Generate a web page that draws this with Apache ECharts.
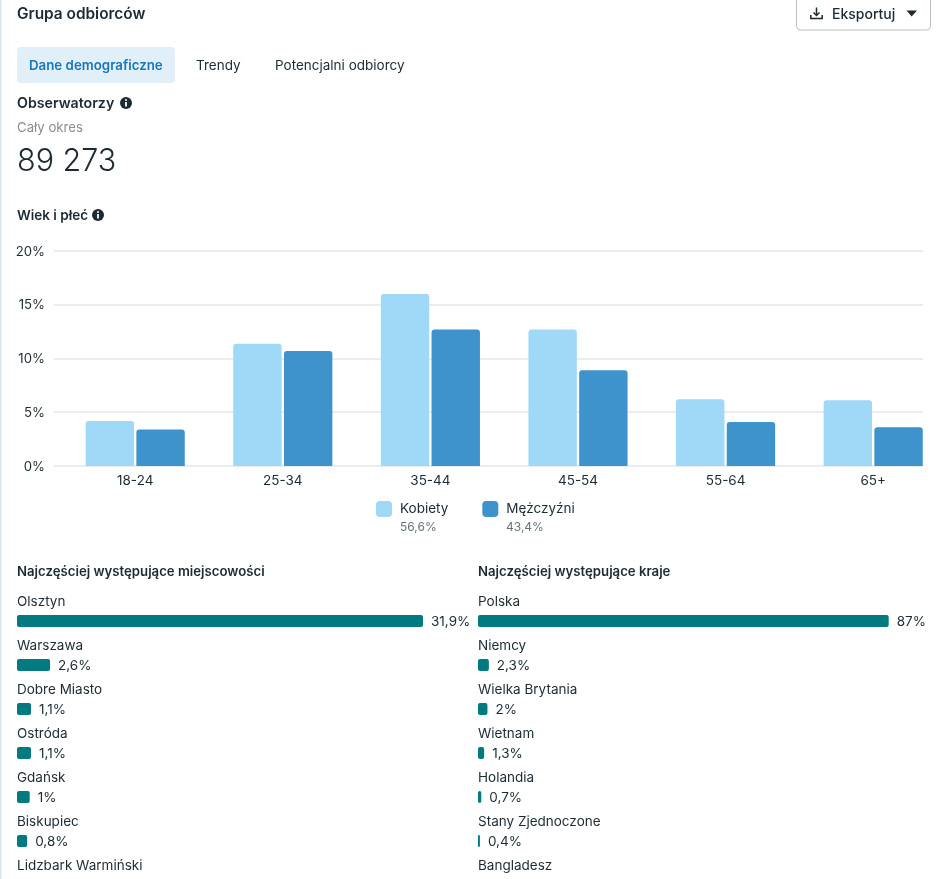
<!DOCTYPE html>
<html><head><meta charset="utf-8">
<style>html,body{margin:0;padding:0;background:#fff}#c{width:943px;height:879px}</style>
<script src="https://cdn.jsdelivr.net/npm/echarts@6/dist/echarts.min.js"></script>
</head><body><div id="c"></div>
<script>
const FONT = 'Inter';
const ageGroups = ['18-24','25-34','35-44','45-54','55-64','65+'];
const women = [4.18,11.36,15.98,12.69,6.19,6.1];
const men = [3.4,10.68,12.69,8.89,4.09,3.59];
const percentTicks = [0,5,10,15,20];
const cities = ['Olsztyn','Warszawa','Dobre Miasto','Ostróda','Gdańsk','Biskupiec','Lidzbark Warmiński'];
const cityShare = [31.9,2.6,1.1,1.1,1,0.8,null];
const countries = ['Polska','Niemcy','Wielka Brytania','Wietnam','Holandia','Stany Zjednoczone','Bangladesz'];
const countryShare = [87,2.3,2,1.3,0.7,0.4,null];

const INK='#1c2b33', GREY='#65737e', LIGHT='#A0D8F8', DARK='#3E93CC', TEAL='#037A80', LINE='#E4E6EB';
const pct = v => String(v).replace('.',',')+'%';
const text = (x,y,t,size,weight,fill) => ({type:'text',x,y:y+1,silent:true,style:{text:t,font:`${weight} ${size}px ${FONT}`,fill,verticalAlign:'middle'}});
const info = (x,y) => ({type:'group',silent:true,children:[
  {type:'circle',shape:{cx:x,cy:y,r:6},style:{fill:INK}},
  {type:'rect',shape:{x:x-0.9,y:y-1,width:1.8,height:4.6},style:{fill:'#fff'}},
  {type:'circle',shape:{cx:x,cy:y-3,r:1},style:{fill:'#fff'}}]});

const hbar = (name,vals,gridIndex) => ({
  type:'bar',name,data:vals,xAxisIndex:gridIndex,yAxisIndex:gridIndex,barWidth:12,
  itemStyle:{color:TEAL,borderRadius:2},
  label:{show:true,position:'right',distance:8,offset:[0,1],fontFamily:FONT,fontSize:13.5,color:INK,
    formatter:p=>p.value==null?'':pct(p.value)}
});
const catAxis = (cats,gridIndex) => ({
  type:'category',data:cats,gridIndex,inverse:true,axisLine:{show:false},axisTick:{show:false},splitLine:{show:false},
  axisLabel:{inside:true,margin:0,align:'left',verticalAlign:'middle',interval:0,
    formatter:v=>`{v|${v}}\n{s| }`,
    rich:{v:{fontFamily:FONT,fontSize:13.5,color:INK,height:16,lineHeight:16,align:'left'},
          s:{fontSize:1,height:38,lineHeight:38}}}
});
const valAxis = (max,gridIndex) => ({type:'value',gridIndex,min:0,max,show:false});

const chart = echarts.init(document.getElementById('c'),null,{renderer:'canvas'});
chart.setOption({
  animation:false,backgroundColor:'#fff',
  textStyle:{fontFamily:FONT},
  grid:[
    {left:54,width:869,top:250.7,height:215.3,outerBoundsMode:'none'},
    {left:61.4,width:885.6,top:250.7,height:215.3,outerBoundsMode:'none'},
    {left:17,width:406,top:599,height:308,outerBoundsMode:'none'},
    {left:478,width:410.7,top:599,height:308,outerBoundsMode:'none'}
  ],
  legend:{left:376,top:501,padding:0,itemWidth:16,itemHeight:16,itemGap:34,selectedMode:false,
    icon:'roundRect',data:['Kobiety','Mężczyźni'],
    textStyle:{fontFamily:FONT,fontSize:13.5,color:INK,padding:[2,0,0,3]}},
  xAxis:[
    {type:'value',gridIndex:0,min:0,max:1,show:false},
    {type:'category',gridIndex:1,data:ageGroups,axisLine:{show:false},axisTick:{show:false},
      axisLabel:{margin:8,fontFamily:FONT,fontSize:13.5,color:INK,interval:0}},
    valAxis(31.9,2),valAxis(87,3)
  ],
  yAxis:[
    {type:'value',gridIndex:0,min:0,max:20,interval:5,axisLine:{show:false},axisTick:{show:false},
      splitLine:{lineStyle:{color:LINE,width:1.5}},
      axisLabel:{margin:9,align:'right',formatter:v=>percentTicks.includes(v)?`{s| }\n{t|${v}%}`:'',
        rich:{s:{fontSize:1,height:2,lineHeight:2},
              t:{fontFamily:FONT,fontSize:13.2,color:INK,height:16,lineHeight:16,align:'right'}}}},
    {type:'value',gridIndex:1,min:0,max:20,show:false},
    catAxis(cities,2),catAxis(countries,3)
  ],
  series:[
    {type:'bar',name:'Kobiety',data:women,xAxisIndex:1,yAxisIndex:1,barWidth:48.4,barGap:'4.8%',itemStyle:{color:LIGHT,borderRadius:[3,3,0,0]}},
    {type:'bar',name:'Mężczyźni',data:men,xAxisIndex:1,yAxisIndex:1,barWidth:48.4,barGap:'4.8%',itemStyle:{color:DARK,borderRadius:[3,3,0,0]}},
    hbar('Miejscowości',cityShare,2),
    hbar('Kraje',countryShare,3)
  ],
  graphic:{elements:[
    {type:'rect',silent:true,shape:{x:0,y:0,width:1.5,height:879},style:{fill:'#DDE6EC'}},
    text(17,13.5,'Grupa odbiorców',15.4,600,INK),
    {type:'rect',silent:true,shape:{x:796.5,y:-6,width:134,height:36,r:4},style:{fill:'#fff',stroke:'#BCC0C4',lineWidth:1}},
    {type:'polyline',silent:true,shape:{points:[[816.5,7.5],[816.5,15]]},style:{stroke:INK,lineWidth:1.5,fill:null}},
    {type:'polyline',silent:true,shape:{points:[[813.5,12.5],[816.5,15.5],[819.5,12.5]]},style:{stroke:INK,lineWidth:1.5,fill:null}},
    {type:'polyline',silent:true,shape:{points:[[810.8,15],[810.8,18.6],[822.2,18.6],[822.2,15]]},style:{stroke:INK,lineWidth:1.5,fill:null}},
    text(832,13.5,'Eksportuj',14,500,INK),
    {type:'polygon',silent:true,shape:{points:[[906.5,10.5],[917,10.5],[911.7,16.5]]},style:{fill:INK}},
    {type:'rect',silent:true,shape:{x:17,y:47,width:158,height:36,r:4},style:{fill:'#E1EFF8'}},
    text(29,65,'Dane demograficzne',13.3,600,'#1877B9'),
    text(196,65,'Trendy',13.5,400,INK),
    text(275,65,'Potencjalni odbiorcy',13.5,400,INK),
    text(17,103,'Obserwatorzy',14.2,600,INK),
    info(126,103),
    text(17,127,'Cały okres',13.2,400,'#8A8D91'),
    text(17,160.5,'89 273',30.5,300,INK),
    text(17,215,'Wiek i płeć',13.5,600,INK),
    info(98,215),
    text(400,526.5,'56,6%',12,400,GREY),
    text(506,526.5,'43,4%',12,400,GREY),
    text(17,571,'Najczęściej występujące miejscowości',13.2,600,INK),
    text(478,571,'Najczęściej występujące kraje',13.2,600,INK)
  ]}
});
</script></body></html>
